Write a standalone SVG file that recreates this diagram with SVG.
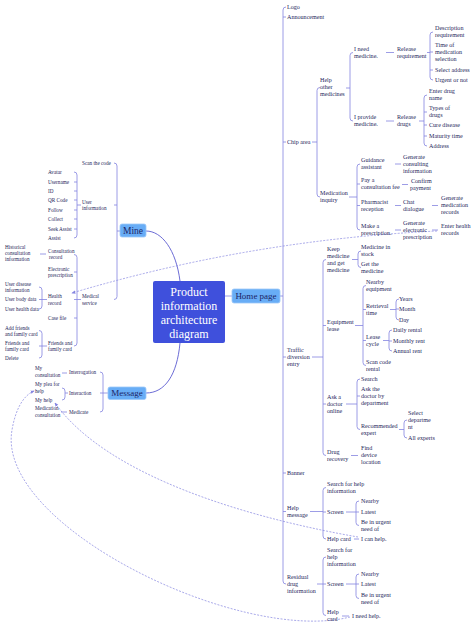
<svg xmlns="http://www.w3.org/2000/svg" width="474" height="632" viewBox="0 0 474 632">
<style>
text{font-family:"Liberation Serif","Times New Roman",serif;fill:#26265a}
.r{font-size:6.1px}
.l{font-size:5.2px}
.c{fill:none;stroke:#8484e0;stroke-width:0.8}
.m{fill:none;stroke:#5b5bd0;stroke-width:0.9}
.d{fill:none;stroke:#8484e0;stroke-width:0.7;stroke-dasharray:2 1.4}
.sub rect{fill:#68adf6;stroke:#9cc8f9;stroke-width:0.8}
.sub text{font-size:9px;text-anchor:middle;fill:#1c2566}
</style>
<defs>
<marker id="ah" viewBox="0 0 6 6" refX="5" refY="3" markerWidth="4" markerHeight="4" markerUnits="userSpaceOnUse" orient="auto"><path d="M0,0.5 L6,3 L0,5.5z" fill="#8484e0"/></marker>
</defs>
<rect width="474" height="632" fill="#ffffff"/>
<g id="connectors">
<path class="m" d="M146,231 C162,231 176,250 180,281 M180,343 C177,375 165,393 146,393"/>
<path class="c" d="M225,296 H232 M280,296 H283"/>
<path class="c" d="M286,7 Q283,7 283,10 V581 Q283,584 286,584 M283,17 h3 M283,142 h3 M283,357 h3 M283,473 h3 M283,511.5 h3"/>
<path class="c" d="M320,87.5 Q317,87.5 317,90.5 V194 Q317,197 320,197 M312,142 H317"/>
<path class="c" d="M353,52.5 Q350,52.5 350,55.5 V118 Q350,121 353,121 M346,88 H350"/>
<path class="c" d="M386,52.5 H394 M386,121 H394"/>
<path class="c" d="M433,32 Q430,32 430,35 V77 Q430,80 433,80 M430,52 h3 M430,70 h3 M427,52.5 H430"/>
<path class="c" d="M427,95 Q424,95 424,98 V143 Q424,146 427,146 M424,112 h3 M424,125 h3 M424,136 h3 M419,121 H424"/>
<path class="c" d="M360,164 Q357,164 357,167 V227 Q357,230 360,230 M357,184 h3 M357,205.5 h3 M349,197 H357"/>
<path class="c" d="M395,164 H401 M402,184.5 H408 M395,205.5 H401 M432,205.5 H438 M395,230 H401 M432,230 H438"/>
<path class="c" d="M326,259.5 Q323,259.5 323,262.5 V452.5 Q323,455.5 326,455.5 M323,325.5 h3 M323,404 h3 M312,357 H323"/>
<path class="c" d="M361,251 Q358,251 358,254 V264.5 Q358,267.5 361,267.5 M352,259.5 H358"/>
<path class="c" d="M366,285.5 Q363,285.5 363,288.5 V362.5 Q363,365.5 366,365.5 M363,309.5 h3 M363,340.5 h3 M355,325.5 H363"/>
<path class="c" d="M399,299 Q396,299 396,302 V317 Q396,320 399,320 M396,309 h3 M390,309.5 H396"/>
<path class="c" d="M392,330 Q389,330 389,333 V348 Q389,351 392,351 M389,341 h3 M383,340.5 H389"/>
<path class="c" d="M360,379 Q357,379 357,382 V426.5 Q357,429.5 360,429.5 M357,396 h3 M346,404 H357"/>
<path class="c" d="M407,420 Q404,420 404,423 V435 Q404,438 407,438 M399,429.5 H404"/>
<path class="c" d="M351,455.5 H358"/>
<path class="c" d="M326,487.5 Q323,487.5 323,490.5 V536 Q323,539 326,539 M323,512 h3 M310,511.5 H323"/>
<path class="c" d="M359,501 Q356,501 356,504 V522.5 Q356,525.5 359,525.5 M356,512 h3 M346,512 H356 M354,539 H359"/>
<path class="c" d="M326,557 Q323,557 323,560 V612.5 Q323,615.5 326,615.5 M323,584 h3 M317,584 H323"/>
<path class="c" d="M359,574 Q356,574 356,577 V595.5 Q356,598.5 359,598.5 M356,584 h3 M346,584 H356 M342,616 H349"/>
<path class="c" d="M114,163 Q117,163 117,166 V296.5 Q117,299.5 114,299.5 M117,205 h-3 M117,231 H120"/>
<path class="c" d="M74,172 Q77,172 77,175 V235 Q77,238 74,238 M77,182 h-3 M77,191 h-3 M77,200 h-3 M77,210 h-3 M77,219 h-3 M77,229 h-3 M77,205 H81"/>
<path class="c" d="M74,254.5 Q77,254.5 77,257.5 V343 Q77,346 74,346 M77,272 h-3 M77,318 h-3 M74,299.5 H81"/>
<path class="c" d="M40,254 H46"/>
<path class="c" d="M39,287 Q42,287 42,290 V306 Q42,309 39,309 M39,299.5 H47"/>
<path class="c" d="M39,330.5 Q42,330.5 42,333.5 V355 Q42,358 39,358 M39,346 H47"/>
<path class="c" d="M100,372 Q103,372 103,375 V409 Q103,412 100,412 M100,393 H108"/>
<path class="c" d="M62,373 H67 M62,388 Q65,388 65,391 V397 Q65,400 62,400 M65,393 H68 M61,412 H67"/>
<path class="d" marker-end="url(#ah)" d="M437,231 Q250,240 72,293"/>
<path class="d" marker-end="url(#ah)" d="M358,537 C260,520 110,480 55,403"/>
<path class="d" marker-end="url(#ah)" d="M350,617 C240,645 -5,525 12,430 C15,412 22,396 34,391"/>
</g>
<g id="root"><rect x="153" y="281" width="72" height="62" rx="2" fill="#3f50dc"/>
<text x="189" y="296" font-size="12" text-anchor="middle" style="fill:#ffffff"><tspan x="189">Product</tspan><tspan x="189" dy="14">information</tspan><tspan x="189" dy="14">architecture</tspan><tspan x="189" dy="14">diagram</tspan></text></g>
<g id="home" class="sub"><rect x="232" y="289" width="48" height="14" rx="2"/><text x="256" y="299.2">Home page</text></g>
<g id="mine" class="sub"><rect x="120" y="224" width="26" height="13" rx="2"/><text x="133" y="233.5" style="font-size:9.5px">Mine</text></g>
<g id="message" class="sub"><rect x="108" y="387" width="38" height="12.5" rx="2"/><text x="127" y="396.3">Message</text></g>

<g id="logo"><text class="r" x="287" y="9">Logo</text></g>
<g id="announcement"><text class="r" x="287" y="19">Announcement</text></g>
<g id="chip"><text class="r" x="287" y="144">Chip area</text></g>
<g id="traffic"><text class="r" x="287" y="352"><tspan x="287">Traffic</tspan><tspan x="287" dy="7">diversion</tspan><tspan x="287" dy="7">entry</tspan></text></g>
<g id="banner"><text class="r" x="287" y="475">Banner</text></g>
<g id="helpmsg"><text class="r" x="287" y="510"><tspan x="287">Help</tspan><tspan x="287" dy="7">message</tspan></text></g>
<g id="residual"><text class="r" x="287" y="579"><tspan x="287">Residual</tspan><tspan x="287" dy="7">drug</tspan><tspan x="287" dy="7">information</tspan></text></g>

<g id="helpother"><text class="r" x="320" y="82"><tspan x="320">Help</tspan><tspan x="320" dy="7">other</tspan><tspan x="320" dy="7">medicines</tspan></text></g>
<g id="medinq"><text class="r" x="320" y="195"><tspan x="320">Medication</tspan><tspan x="320" dy="7">inquiry</tspan></text></g>
<g id="ineed"><text class="r" x="354" y="51"><tspan x="354">I need</tspan><tspan x="354" dy="7">medicine.</tspan></text></g>
<g id="iprovide"><text class="r" x="354" y="119"><tspan x="354">I provide</tspan><tspan x="354" dy="7">medicine.</tspan></text></g>
<g id="relreq"><text class="r" x="397" y="51"><tspan x="397">Release</tspan><tspan x="397" dy="7">requirement</tspan></text></g>
<g id="reldrugs"><text class="r" x="397" y="119"><tspan x="397">Release</tspan><tspan x="397" dy="7">drugs</tspan></text></g>
<g id="descreq"><text class="r" x="435" y="30"><tspan x="435">Description</tspan><tspan x="435" dy="7">requirement</tspan></text></g>
<g id="timemed"><text class="r" x="435" y="47"><tspan x="435">Time of</tspan><tspan x="435" dy="7">medication</tspan><tspan x="435" dy="7">selection</tspan></text></g>
<g id="seladdr"><text class="r" x="435" y="72">Select address</text></g>
<g id="urgent"><text class="r" x="435" y="82">Urgent or not</text></g>
<g id="enterdrug"><text class="r" x="429" y="93"><tspan x="429">Enter drug</tspan><tspan x="429" dy="7">name</tspan></text></g>
<g id="types"><text class="r" x="429" y="110"><tspan x="429">Types of</tspan><tspan x="429" dy="7">drugs</tspan></text></g>
<g id="cure"><text class="r" x="429" y="127">Cure disease</text></g>
<g id="maturity"><text class="r" x="429" y="138">Maturity time</text></g>
<g id="address"><text class="r" x="429" y="148">Address</text></g>
<g id="guidance"><text class="r" x="361" y="162"><tspan x="361">Guidance</tspan><tspan x="361" dy="7">assistant</tspan></text></g>
<g id="pay"><text class="r" x="361" y="182"><tspan x="361">Pay a</tspan><tspan x="361" dy="7">consultation fee</tspan></text></g>
<g id="pharm"><text class="r" x="361" y="204"><tspan x="361">Pharmacist</tspan><tspan x="361" dy="7">reception</tspan></text></g>
<g id="makepres"><text class="r" x="361" y="228"><tspan x="361">Make a</tspan><tspan x="361" dy="7">prescription.</tspan></text></g>
<g id="gencons"><text class="r" x="403" y="159"><tspan x="403">Generate</tspan><tspan x="403" dy="7">consulting</tspan><tspan x="403" dy="7">information</tspan></text></g>
<g id="confirm"><text class="r" x="411" y="183"><tspan x="411">Confirm</tspan><tspan x="410" dy="7">payment</tspan></text></g>
<g id="chat"><text class="r" x="403" y="204"><tspan x="403">Chat</tspan><tspan x="403" dy="7">dialogue</tspan></text></g>
<g id="genmedrec"><text class="r" x="441" y="200"><tspan x="441">Generate</tspan><tspan x="441" dy="7">medication</tspan><tspan x="441" dy="7">records</tspan></text></g>
<g id="genelec"><text class="r" x="403" y="225"><tspan x="403">Generate</tspan><tspan x="403" dy="7">electronic</tspan><tspan x="403" dy="7">prescription</tspan></text></g>
<g id="enterhealth"><text class="r" x="441" y="228"><tspan x="441">Enter health</tspan><tspan x="441" dy="7">records</tspan></text></g>

<g id="keep"><text class="r" x="327" y="251"><tspan x="327">Keep</tspan><tspan x="327" dy="7">medicine</tspan><tspan x="327" dy="7">and get</tspan><tspan x="327" dy="7">medicine</tspan></text></g>
<g id="equip"><text class="r" x="327" y="324"><tspan x="327">Equipment</tspan><tspan x="327" dy="7">lease</tspan></text></g>
<g id="askdoc"><text class="r" x="327" y="399"><tspan x="327">Ask a</tspan><tspan x="327" dy="7">doctor</tspan><tspan x="327" dy="7">online</tspan></text></g>
<g id="drugrec"><text class="r" x="327" y="454"><tspan x="327">Drug</tspan><tspan x="327" dy="7">recovery</tspan></text></g>
<g id="instock"><text class="r" x="361" y="249"><tspan x="361">Medicine in</tspan><tspan x="361" dy="7">stock</tspan></text></g>
<g id="getmed"><text class="r" x="361" y="266"><tspan x="361">Get the</tspan><tspan x="361" dy="7">medicine</tspan></text></g>
<g id="nearbyeq"><text class="r" x="366" y="284"><tspan x="366">Nearby</tspan><tspan x="366" dy="7">equipment</tspan></text></g>
<g id="retrieval"><text class="r" x="366" y="308"><tspan x="366">Retrieval</tspan><tspan x="366" dy="7">time</tspan></text></g>
<g id="lease"><text class="r" x="366" y="339"><tspan x="366">Lease</tspan><tspan x="366" dy="7">cycle</tspan></text></g>
<g id="scanrent"><text class="r" x="366" y="364"><tspan x="366">Scan code</tspan><tspan x="366" dy="7">rental</tspan></text></g>
<g id="years"><text class="r" x="399" y="301">Years</text></g>
<g id="month"><text class="r" x="399" y="311">Month</text></g>
<g id="day"><text class="r" x="399" y="322">Day</text></g>
<g id="daily"><text class="r" x="393" y="332">Daily rental</text></g>
<g id="monthly"><text class="r" x="393" y="343">Monthly rent</text></g>
<g id="annual"><text class="r" x="393" y="353">Annual rent</text></g>
<g id="search"><text class="r" x="361" y="381">Search</text></g>
<g id="askdept"><text class="r" x="361" y="391"><tspan x="361">Ask the</tspan><tspan x="361" dy="7">doctor by</tspan><tspan x="361" dy="7">department</tspan></text></g>
<g id="recexp"><text class="r" x="361" y="428"><tspan x="361">Recommended</tspan><tspan x="361" dy="7">expert</tspan></text></g>
<g id="seldept"><text class="r" x="408" y="415"><tspan x="408">Select</tspan><tspan x="408" dy="7">departme</tspan><tspan x="408" dy="7">nt</tspan></text></g>
<g id="allexp"><text class="r" x="408" y="440">All experts</text></g>
<g id="finddev"><text class="r" x="361" y="450"><tspan x="361">Find</tspan><tspan x="361" dy="7">device</tspan><tspan x="361" dy="7">location</tspan></text></g>

<g id="searchhelp1"><text class="r" x="327" y="486"><tspan x="327">Search for help</tspan><tspan x="327" dy="7">information</tspan></text></g>
<g id="screen1"><text class="r" x="327" y="514">Screen</text></g>
<g id="helpcard1"><text class="r" x="327" y="541">Help card</text></g>
<g id="nearby1"><text class="r" x="361" y="503">Nearby</text></g>
<g id="latest1"><text class="r" x="361" y="514">Latest</text></g>
<g id="urgent1"><text class="r" x="361" y="524"><tspan x="361">Be in urgent</tspan><tspan x="361" dy="7">need of</tspan></text></g>
<g id="icanhelp"><text class="r" x="361" y="541">I can help.</text></g>
<g id="searchhelp2"><text class="r" x="327" y="552"><tspan x="327">Search for</tspan><tspan x="327" dy="7">help</tspan><tspan x="327" dy="7">information</tspan></text></g>
<g id="screen2"><text class="r" x="327" y="586">Screen</text></g>
<g id="helpcard2"><text class="r" x="327" y="614"><tspan x="327">Help</tspan><tspan x="327" dy="7">card</tspan></text></g>
<g id="nearby2"><text class="r" x="361" y="576">Nearby</text></g>
<g id="latest2"><text class="r" x="361" y="586">Latest</text></g>
<g id="urgent2"><text class="r" x="361" y="597"><tspan x="361">Be in urgent</tspan><tspan x="361" dy="7">need of</tspan></text></g>
<g id="ineedhelp"><text class="r" x="352" y="618">I need help.</text></g>

<g id="scancode"><text class="l" x="82" y="165">Scan the code</text></g>
<g id="userinfo"><text class="l" x="82" y="204"><tspan x="82">User</tspan><tspan x="82" dy="6.2">information</tspan></text></g>
<g id="medserv"><text class="l" x="82" y="298"><tspan x="82">Medical</tspan><tspan x="82" dy="6.5">service</tspan></text></g>
<g id="avatar"><text class="l" x="48" y="174">Avatar</text></g>
<g id="username"><text class="l" x="48" y="184">Username</text></g>
<g id="uid"><text class="l" x="48" y="193">ID</text></g>
<g id="qrcode"><text class="l" x="48" y="202">QR Code</text></g>
<g id="follow"><text class="l" x="48" y="212">Follow</text></g>
<g id="collect"><text class="l" x="48" y="221">Collect</text></g>
<g id="seekassist"><text class="l" x="48" y="231">Seek Assist</text></g>
<g id="assist"><text class="l" x="48" y="240">Assist</text></g>
<g id="consrec"><text class="l" x="48" y="253"><tspan x="48">Consultation</tspan><tspan x="49" dy="6.2">record</tspan></text></g>
<g id="elecpres"><text class="l" x="48" y="271"><tspan x="48">Electronic</tspan><tspan x="48" dy="6.2">prescription</tspan></text></g>
<g id="healthrec"><text class="l" x="48" y="298"><tspan x="48">Health</tspan><tspan x="48" dy="6.5">record</tspan></text></g>
<g id="casefile"><text class="l" x="48" y="320">Case file</text></g>
<g id="friendscard"><text class="l" x="48" y="345"><tspan x="48">Friends and</tspan><tspan x="48" dy="6.2">family card</tspan></text></g>
<g id="histcons"><text class="l" x="5" y="249"><tspan x="5">Historical</tspan><tspan x="5" dy="6.2">consultation</tspan><tspan x="5" dy="6.2">information</tspan></text></g>
<g id="userdisease"><text class="l" x="5" y="286"><tspan x="5">User disease</tspan><tspan x="5" dy="6.2">information</tspan></text></g>
<g id="userbody"><text class="l" x="5" y="301">User body data</text></g>
<g id="userhealth"><text class="l" x="5" y="311">User health data</text></g>
<g id="addfriends"><text class="l" x="5" y="330"><tspan x="5">Add  friends</tspan><tspan x="5" dy="5.5">and  family card</tspan></text></g>
<g id="friendscard2"><text class="l" x="5" y="345"><tspan x="5">Friends and</tspan><tspan x="5" dy="6.2">family card</tspan></text></g>
<g id="delete"><text class="l" x="5" y="360">Delete</text></g>
<g id="interrogation"><text class="l" x="69" y="374">Interrogation</text></g>
<g id="interaction"><text class="l" x="69" y="395">Interaction</text></g>
<g id="medicate"><text class="l" x="69" y="414">Medicate</text></g>
<g id="mycons"><text class="l" x="35" y="370"><tspan x="35">My</tspan><tspan x="35" dy="6.5">consultation</tspan></text></g>
<g id="myplea"><text class="l" x="35" y="386"><tspan x="35">My plea for</tspan><tspan x="35" dy="6.5">help</tspan></text></g>
<g id="myhelp"><text class="l" x="35" y="402">My help</text></g>
<g id="medcons"><text class="l" x="35" y="410"><tspan x="35">Medication</tspan><tspan x="35" dy="6.5">consultation</tspan></text></g>
</svg>
